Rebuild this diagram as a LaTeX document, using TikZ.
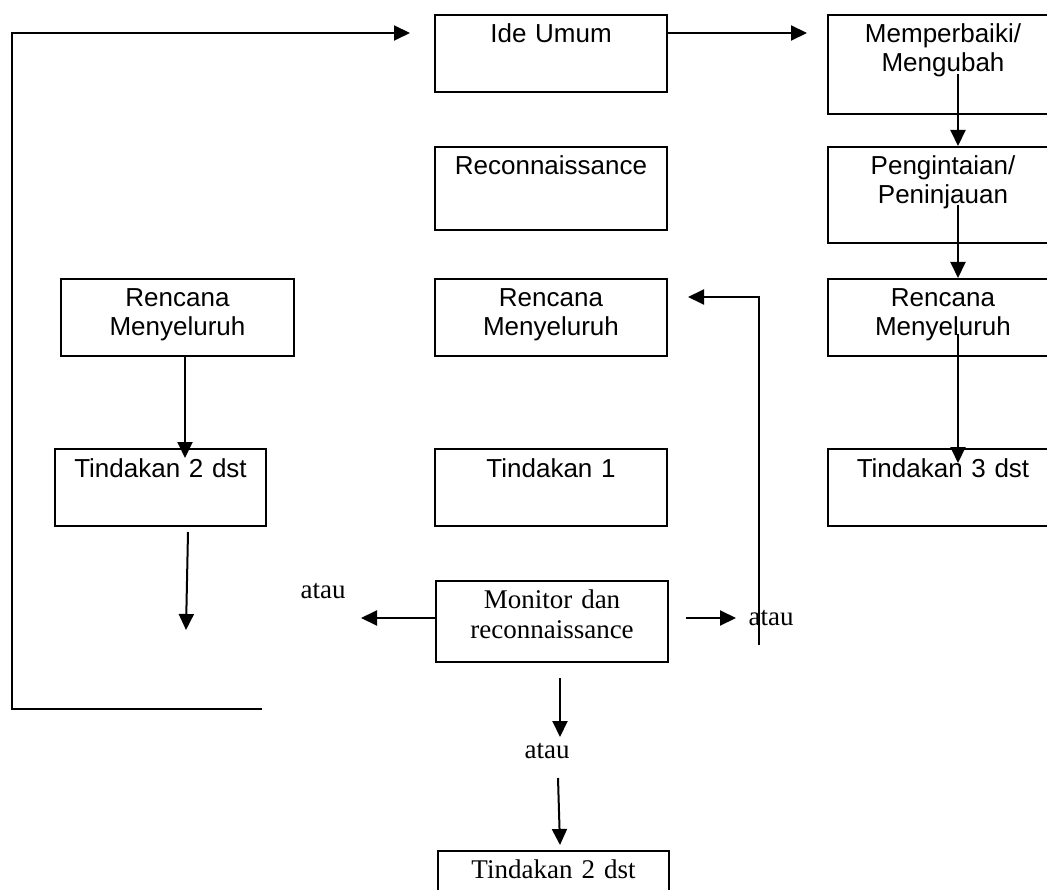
\documentclass[tikz,border=0pt]{standalone}
\usepackage{fontspec}
\setmainfont{Liberation Serif}
\newfontfamily\arialfont{Liberation Sans}
\usetikzlibrary{arrows.meta}

\begin{document}
\begin{tikzpicture}[x=1pt,y=-1pt,
	box/.style={draw,line width=2pt,inner sep=0pt,anchor=north west,align=center,text height=28pt,font=\arialfont\fontsize{26}{29}\selectfont},
	tbox/.style={box,text height=27pt,font=\rmfamily\fontsize{27}{30}\selectfont},
	arr/.style={line width=2pt,-{Triangle[length=16pt,width=15pt]}},
	lbl/.style={anchor=base,inner sep=0pt,font=\rmfamily\fontsize{27}{30}\selectfont}]
	\useasboundingbox (0,0) rectangle (1047,890);
	\clip (0,0) rectangle (1047,890);
	\foreach \nm/\x/\y/\w/\dep/\txt in {ide/434/14/232/49/{Ide Umum},recon/434/146/232/55/{Reconnaissance},renM/434/278/232/49/{Rencana\\Menyeluruh},tin1/434/448/232/49/{Tindakan 1},memp/827/14/230/71/{Memperbaiki/\\Mengubah},peng/827/146/230/68/{Pengintaian/\\Peninjauan},renR/827/278/230/49/{Rencana\\Menyeluruh},tin3/827/448/230/49/{Tindakan 3 dst},renL/60/278/233/49/{Rencana\\Menyeluruh},tinL/54/448/211/49/{Tindakan 2 dst}}{
		\node [box,text width=\w pt,text depth=\dep pt] at (\x,\y) (\nm) {\txt};
	}
	\node [tbox,text width=232pt,text depth=54pt] at (435,580) (mon) {Monitor dan\\reconnaissance};
	\node [tbox,text width=231pt,text depth=60pt] at (437,850) (tinB) {Tindakan 2 dst};
	\node [lbl] at (323,598) (atauL) {atau};
	\node [lbl] at (771,625) (atauR) {atau};
	\node [lbl] at (547,758) (atauB) {atau};
	\coordinate (loopend) at (262,709);
	\coordinate (corner) at (12,33);
	\coordinate (tinLend) at (186,630);
	\coordinate (retstart) at (759,645);
	\draw [arr] (loopend) -| (corner) -- ([shift={(-24,19)}]ide.north west);
	\draw [arr] ([shift={(0,19)}]ide.north east) -- ([shift={(-20,19)}]memp.north west);
	\foreach \a/\b/\s/\e in {memp/peng/60/0,peng/renR/59/0,renR/tin3/56/15}{
		\draw [arr] ([shift={(131,\s)}]\a.north west) -- ([shift={(131,\e)}]\b.north west);
	}
	\draw [arr] ([shift={(125,0)}]renL.south west) -- ([shift={(131,10)}]tinL.north west);
	\draw [arr] ([shift={(134,5)}]tinL.south west) -- (tinLend);
	\draw [arr] ([shift={(0,38)}]mon.north west) -- ([shift={(-74,38)}]mon.north west);
	\draw [arr] ([shift={(17,38)}]mon.north east) -- ([shift={(67,38)}]mon.north east);
	\draw [arr] (retstart) |- ([shift={(20,19)}]renM.north east);
	\draw [arr] ([shift={(125,15)}]mon.south west) -- ([shift={(13,-21)}]atauB.base);
	\draw [arr] ([shift={(11,20)}]atauB.base) -- ([shift={(123,-5)}]tinB.north west);
\end{tikzpicture}
\end{document}
